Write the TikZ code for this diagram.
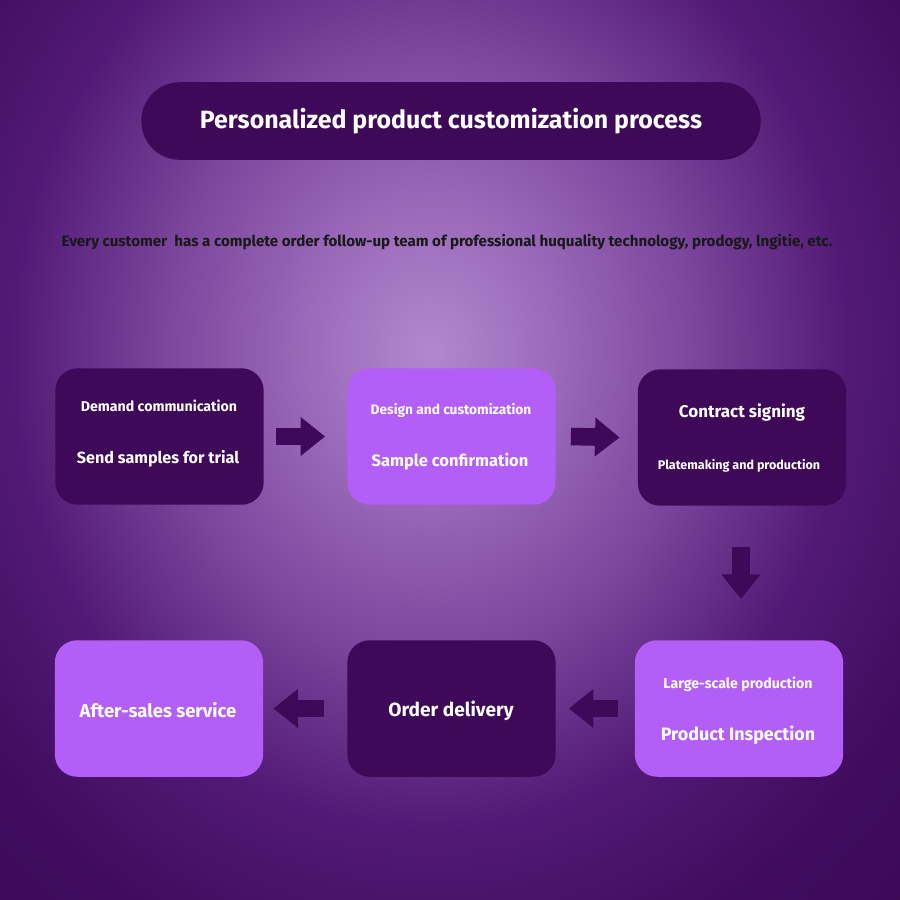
\documentclass[tikz,border=0pt]{standalone}
\usepackage{fontspec}
\setmainfont{Fira Sans}
\usetikzlibrary{arrows.meta,calc}
\definecolor{darkbox}{HTML}{3E0958}
\definecolor{lightbox}{HTML}{B35EF6}
\definecolor{edgebg}{HTML}{380952}
\pgfdeclareradialshading{bgshade}{\pgfpoint{0bp}{0bp}}{%
rgb(0bp)=(0.70,0.53,0.81);
rgb(3.95bp)=(0.61,0.42,0.73);
rgb(8.9bp)=(0.48,0.27,0.61);
rgb(13.8bp)=(0.32,0.10,0.46);
rgb(18.4bp)=(0.25,0.05,0.37);
rgb(25bp)=(0.22,0.03,0.32);
rgb(50bp)=(0.22,0.03,0.32)}
\tikzset{
  box/.style={rounded corners=19pt, minimum width=177.8pt, minimum height=116.5pt, inner sep=0pt},
  darkbx/.style={box, fill=darkbox},
  lightbx/.style={box, fill=lightbox},
  txt/.style={text=white, font=\bfseries, inner sep=0pt},
  blk/.style={draw=darkbox, line width=15pt, -{Triangle[length=21pt,width=32pt]}},
}
\newcommand{\fsz}[1]{\bfseries\fontsize{#1}{#1}\selectfont}
\begin{document}
\begin{tikzpicture}[x=0.3mm,y=-0.3mm]
\path[use as bounding box] (0,0) rectangle (900,900);
\fill[edgebg] (0,0) rectangle (900,900);
\begin{scope}
\clip (0,0) rectangle (900,900);
\shade[shading=bgshade] (430,350) ellipse [x radius=760, y radius=870];
\end{scope}
% title
\node[fill=darkbox, rounded corners=33pt, minimum width=528.7pt, minimum height=66.3pt, inner sep=0pt] (title) at (451,121) {};
\node[txt, font=\fsz{21.3}] (titletxt) at (title.center) {Personalized product customization process};
\node[inner sep=0pt, text=black!90, font=\fsz{12.9}] (sub) at (447,242) {Every customer\ \ has a complete order follow-up team of professional huquality technology, prodogy, lngitie, etc.};
% boxes
\node[darkbx] (b1) at (159.5,436.5) {};
\node[lightbx] (b2) at (451.5,436.5) {};
\node[darkbx] (b3) at (742,437.5) {};
\node[lightbx] (b4) at (739,708.5) {};
\node[darkbx] (b5) at (451.5,708.5) {};
\node[lightbx] (b6) at (159,708.5) {};
% texts
\node[txt, font=\fsz{12.1}] (b1a) at (159,406) {Demand communication};
\node[txt, font=\fsz{13.8}] (b1b) at (158,459) {Send samples for trial};
\node[txt, font=\fsz{11.7}] (b2a) at (451,410) {Design and customization};
\node[txt, font=\fsz{14.1}] (b2b) at (450,462) {Sample confirmation};
\node[txt, font=\fsz{14.5}] (b3a) at (742,412) {Contract signing};
\node[txt, font=\fsz{10.7}] (b3b) at (739,466) {Platemaking and production};
\node[txt, font=\fsz{12.1}] (b4a) at (738,684) {Large-scale production};
\node[txt, font=\fsz{15.3}] (b4b) at (738,735) {Product Inspection};
\node[txt, font=\fsz{16.3}] (b5a) at (451,711) {Order delivery};
\node[txt, font=\fsz{15.8}] (b6a) at (158,710) {After-sales service};
% arrows
\draw[blk] ($(b1.east)+(12,0)$) -- ($(b2.west)+(-22,0)$);
\draw[blk] ($(b2.east)+(15,0)$) -- ($(b3.west)+(-18,0)$);
\draw[blk] ($(b3.south)+(-1,41)$) -- ($(b4.north)+(2,-41)$);
\draw[blk] ($(b4.west)+(-17,0)$) -- ($(b5.east)+(13,0)$);
\draw[blk] ($(b5.west)+(-23,0)$) -- ($(b6.east)+(10,0)$);
\end{tikzpicture}
\end{document}
